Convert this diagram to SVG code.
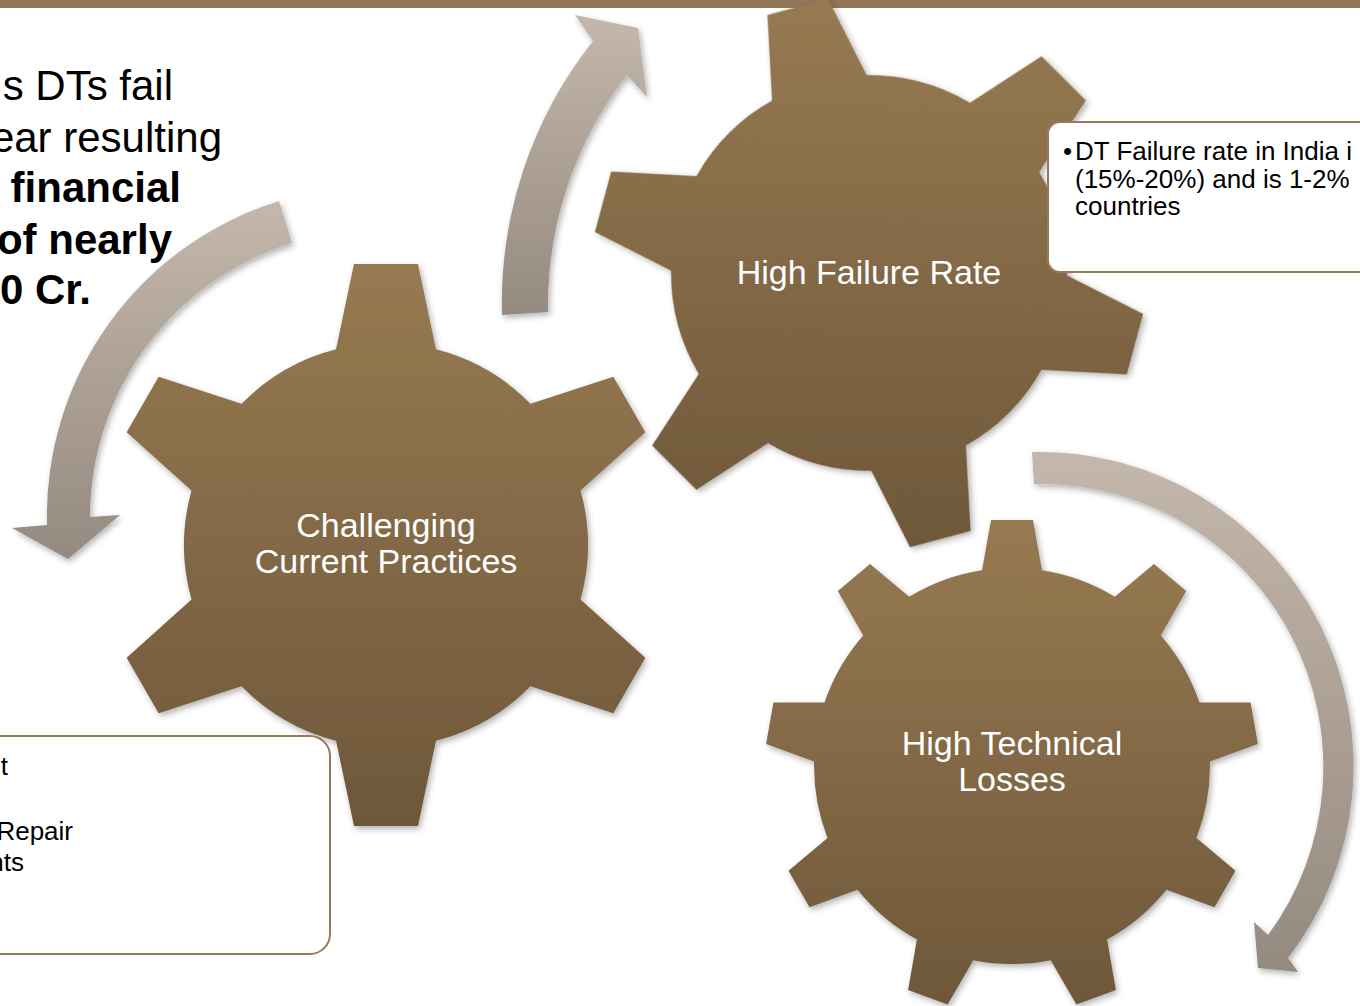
<svg xmlns="http://www.w3.org/2000/svg" width="1360" height="1006" viewBox="0 0 1360 1006">
  <defs>
    <linearGradient id="gearFill" x1="0" y1="0" x2="0" y2="1">
      <stop offset="0" stop-color="#977a52"/>
      <stop offset="1" stop-color="#6e573a"/>
    </linearGradient>
    <linearGradient id="gearFillRot" x1="0" y1="0" x2="0" y2="1" gradientTransform="rotate(15 0.5 0.5)">
      <stop offset="0" stop-color="#977a52"/>
      <stop offset="1" stop-color="#6e573a"/>
    </linearGradient>
    <linearGradient id="arrowFill" x1="0" y1="0" x2="0" y2="1">
      <stop offset="0" stop-color="#c4b7ab"/>
      <stop offset="1" stop-color="#958a80"/>
    </linearGradient>
    <filter id="shadow" x="-10%" y="-10%" width="125%" height="125%">
      <feDropShadow dx="2" dy="3" stdDeviation="3" flood-color="#000" flood-opacity="0.3"/>
    </filter>
    <path id="gear6" d="M -50,-195.7 L -32,-281 L 32,-281 L 50,-195.7 A 202 202 0 0 1 144.5,-141.15 L 227.35,-168.2 L 259.35,-112.8 L 194.5,-54.55 A 202 202 0 0 1 194.5,54.55 L 259.35,112.8 L 227.35,168.2 L 144.5,141.15 A 202 202 0 0 1 50,195.7 L 32,281 L -32,281 L -50,195.7 A 202 202 0 0 1 -144.5,141.15 L -227.35,168.2 L -259.35,112.8 L -194.5,54.55 A 202 202 0 0 1 -194.5,-54.55 L -259.35,-112.8 L -227.35,-168.2 L -144.5,-141.15 A 202 202 0 0 1 -50,-195.7 Z"/>
    <path id="gear9" d="M -30,-195.7 L -21,-246 L 21,-246 L 30,-195.7 A 198 198 0 0 1 102.8,-169.2 L 142,-201.9 L 174.2,-174.9 L 148.8,-130.6 A 198 198 0 0 1 187.5,-63.5 L 238.6,-63.4 L 245.9,-22 L 197.9,-4.4 A 198 198 0 0 1 184.5,71.9 L 223.5,104.8 L 202.5,141.2 L 154.5,123.8 A 198 198 0 0 1 95.1,173.6 L 103.9,224 L 64.4,238.4 L 38.7,194.2 A 198 198 0 0 1 -38.7,194.2 L -64.4,238.4 L -103.9,224 L -95.1,173.6 A 198 198 0 0 1 -154.5,123.8 L -202.5,141.2 L -223.5,104.8 L -184.5,71.9 A 198 198 0 0 1 -197.9,-4.4 L -245.9,-22 L -238.6,-63.4 L -187.5,-63.5 A 198 198 0 0 1 -148.8,-130.6 L -174.2,-174.9 L -142,-201.9 L -102.8,-169.2 A 198 198 0 0 1 -30,-195.7 Z"/>
  </defs>
  <style>
    .gear-label { font-family: "Liberation Sans", Arial, sans-serif; font-size: 34px; fill: #ffffff; text-anchor: middle; }
    .lead { font-family: "Liberation Sans", Arial, sans-serif; font-size: 42px; fill: #000000; text-anchor: end; }
    .lead-b { font-weight: bold; }
    .box { fill: #ffffff; stroke: #967b5b; stroke-width: 2; }
    .box-text { font-family: "Liberation Sans", Arial, sans-serif; font-size: 26px; fill: #000000; }
    .arrow { fill: url(#arrowFill); filter: url(#shadow); }
  </style>

  <rect x="0" y="0" width="1360" height="8" fill="#927758"/>

  <g id="gear-challenging">
    <use href="#gear6" transform="translate(386,545)" fill="url(#gearFill)" filter="url(#shadow)"/>
    <text class="gear-label" x="386" y="537">Challenging</text>
    <text class="gear-label" x="386" y="573">Current Practices</text>
  </g>

  <g id="gear-failure">
    <use href="#gear6" transform="translate(869,273) rotate(-15) scale(0.98)" fill="url(#gearFillRot)" filter="url(#shadow)"/>
    <text class="gear-label" x="869" y="284">High Failure Rate</text>
  </g>

  <g id="gear-losses">
    <use href="#gear9" transform="translate(1012,766)" fill="url(#gearFill)" filter="url(#shadow)"/>
    <text class="gear-label" x="1012" y="755">High Technical</text>
    <text class="gear-label" x="1012" y="791">Losses</text>
  </g>

  <g id="connectors">
    <path class="arrow" d="M 502,315 A 422 422 0 0 1 593,41 L 575,15 L 638,28 L 647,97 L 627,75 A 376 376 0 0 0 548,312 Z"/>
    <path class="arrow" d="M 279,201 A 330 330 0 0 0 47,525 L 12,528 L 68,559 L 120,515 L 90,517 A 287 287 0 0 1 292,243 Z"/>
    <path class="arrow" d="M 1032,452 A 314 314 0 0 1 1288,958 L 1298,972 L 1258,968 L 1254,922 L 1268,935 A 283 283 0 0 0 1034,484 Z"/>
  </g>

  <g id="lead-text">
    <text class="lead" x="173" y="100">s DTs fail</text>
    <text class="lead" x="222" y="152">ear resulting</text>
    <text class="lead lead-b" x="181" y="202">financial</text>
    <text class="lead lead-b" x="172" y="254">of nearly</text>
    <text class="lead lead-b" x="91" y="304">0 Cr.</text>
  </g>

  <g id="note-failure">
    <rect class="box" x="1048" y="122" width="340" height="150" rx="12"/>
    <text class="box-text" x="1063" y="160">•</text>
    <text class="box-text" x="1075" y="160">DT Failure rate in India i</text>
    <text class="box-text" x="1075" y="188">(15%-20%) and is 1-2%</text>
    <text class="box-text" x="1075" y="215">countries</text>
  </g>

  <g id="note-practices">
    <rect class="box" x="-30" y="736" width="360" height="218" rx="20"/>
    <text class="box-text" x="8" y="775" text-anchor="end">t</text>
    <text class="box-text" x="73" y="840" text-anchor="end">Repair</text>
    <text class="box-text" x="24" y="871" text-anchor="end">nts</text>
  </g>
</svg>
